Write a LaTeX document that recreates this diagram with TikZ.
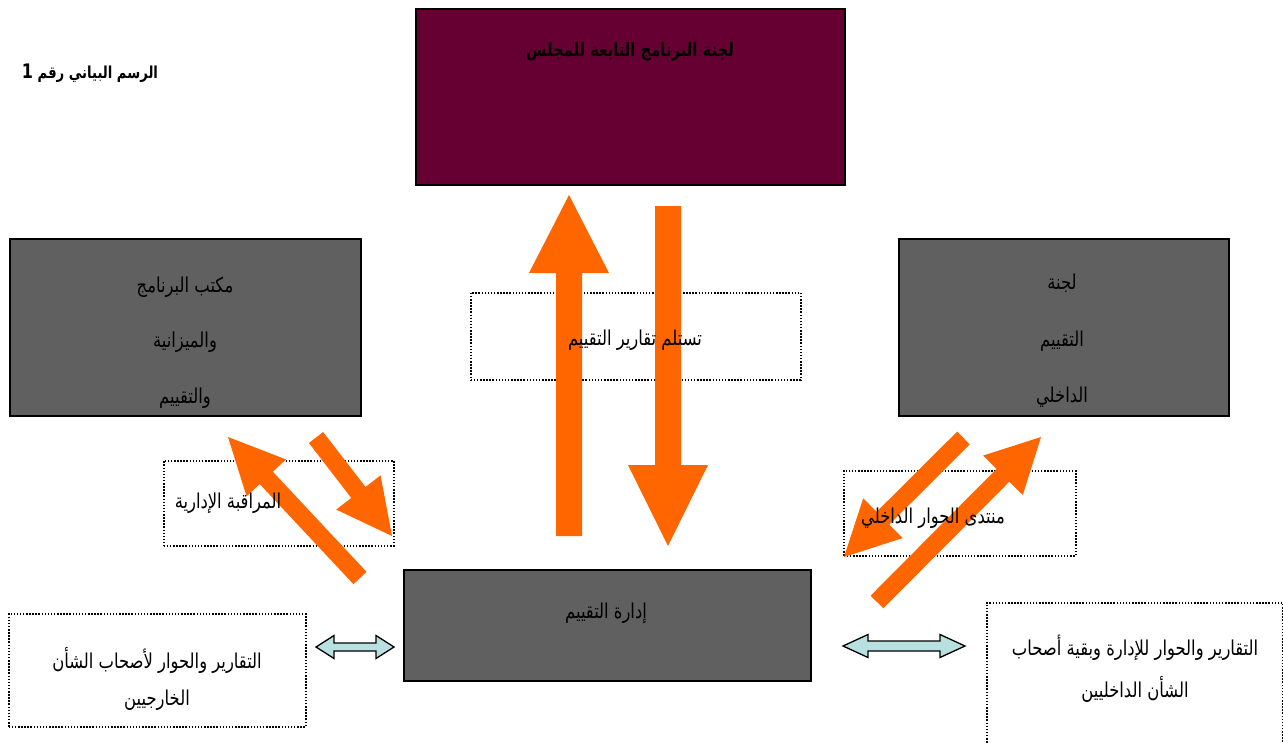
\documentclass[tikz,border=0pt]{standalone}
\usepackage{fontspec}
\TeXXeTstate=1
\newfontfamily\ar[Script=Arabic, FakeStretch=0.8]{DejaVu Sans}
\usetikzlibrary{calc}
\definecolor{maroon}{HTML}{660033}
\definecolor{boxgray}{HTML}{606060}
\definecolor{orng}{HTML}{FF6600}
\definecolor{lblue}{HTML}{B9E0E0}
% tail, tip, shaft half width, head half width, head length, style
\newcommand{\fatarrow}[6]{%
  \coordinate (fahead) at ($(#2)!#5!(#1)$);
  \fill[#6] ($(#1)!#3!90:(#2)$) -- ($(fahead)!#3!-90:(#1)$) -- ($(fahead)!#4!-90:(#1)$) -- (#2)
    -- ($(fahead)!#4!90:(#1)$) -- ($(fahead)!#3!90:(#1)$) -- ($(#1)!#3!-90:(#2)$) -- cycle;
}
% end A, end B, shaft half width, head half width, head length, style
\newcommand{\dblarrow}[6]{%
  \coordinate (dbha) at ($(#1)!#5!(#2)$);
  \coordinate (dbhb) at ($(#2)!#5!(#1)$);
  \filldraw[#6] (#1) -- ($(dbha)!#4!90:(#2)$) -- ($(dbha)!#3!90:(#2)$) -- ($(dbhb)!#3!-90:(#1)$)
    -- ($(dbhb)!#4!-90:(#1)$) -- (#2) -- ($(dbhb)!#4!90:(#1)$) -- ($(dbhb)!#3!90:(#1)$)
    -- ($(dbha)!#3!-90:(#2)$) -- ($(dbha)!#4!-90:(#2)$) -- cycle;
}
\begin{document}
\begin{tikzpicture}[x=1pt,y=-1pt,
  txt/.style={font=\ar\fontsize{20.5}{23}\selectfont, inner sep=0pt, text=black},
  btxt/.style={font=\ar\bfseries\fontsize{18.5}{21}\selectfont, inner sep=0pt, text=black},
  solidbox/.style={draw=black, line width=1.6pt, inner sep=0pt, anchor=north west},
  dotbox/.style={draw=black, line width=1.5pt, dash pattern=on 1.5pt off 1.6pt, inner sep=0pt, anchor=north west},
  orangearrow/.style={fill=orng},
  bluearrow/.style={fill=lblue, draw=black, line width=1.3pt, line join=miter},
]
\useasboundingbox (0,0) rectangle (1283,742);

% solid boxes
\node[solidbox, fill=maroon, minimum width=429pt, minimum height=176pt] (council) at (415,8) {};
\node[solidbox, fill=boxgray, minimum width=351pt, minimum height=177pt] (office) at (9,238) {};
\node[solidbox, fill=boxgray, minimum width=330pt, minimum height=177pt] (committee) at (898,238) {};
\node[solidbox, fill=boxgray, minimum width=407pt, minimum height=111pt] (mgmt) at (403,569) {};

% dotted boxes
\node[dotbox, minimum width=330pt, minimum height=87pt] (receive) at (470,292) {};
\node[dotbox, minimum width=230pt, minimum height=85pt] (oversight) at (163,460) {};
\node[dotbox, minimum width=232pt, minimum height=85pt] (forum) at (843,470) {};
\node[dotbox, minimum width=297pt, minimum height=113pt] (external) at (8,613) {};
\node[dotbox, minimum width=296pt, minimum height=150pt] (internal) at (986,602) {};

% arrow end points
\coordinate (upTail) at (569,536);   \coordinate (upTip) at (569,195);
\coordinate (dnTail) at (668,206);   \coordinate (dnTip) at (668,546);
\coordinate (luTail) at (360,578);   \coordinate (luTip) at (228,437);
\coordinate (ldTail) at (316,437.5); \coordinate (ldTip) at (392,536);
\coordinate (rdTail) at (963.5,438); \coordinate (rdTip) at (844,557);
\coordinate (ruTail) at (877,602);   \coordinate (ruTip) at (1041,437);
\coordinate (dlA) at (316,647);      \coordinate (dlB) at (394,647);
\coordinate (drA) at (843,646);      \coordinate (drB) at (965,646);

\fatarrow{upTail}{upTip}{13pt}{40pt}{78pt}{orangearrow}
\fatarrow{dnTail}{dnTip}{13pt}{40pt}{81pt}{orangearrow}
\fatarrow{luTail}{luTip}{9pt}{27pt}{56pt}{orangearrow}
\fatarrow{ldTail}{ldTip}{9pt}{28pt}{55pt}{orangearrow}
\fatarrow{rdTail}{rdTip}{9pt}{28pt}{55pt}{orangearrow}
\fatarrow{ruTail}{ruTip}{9pt}{28pt}{54pt}{orangearrow}
\dblarrow{dlA}{dlB}{4pt}{11.5pt}{18pt}{bluearrow}
\dblarrow{drA}{drB}{5pt}{11.5pt}{25pt}{bluearrow}

% texts
\node[btxt, font=\ar\bfseries\fontsize{16.5}{18}\selectfont] (title) at (90,73) {\beginR الرسم البياني رقم \fontsize{20}{22}\selectfont 1\endR};
\node[btxt] (councilT) at (630,52) {\beginR لجنة البرنامج التابعة للمجلس\endR};
\node[txt] (officeA) at (185,287) {\beginR مكتب البرنامج\endR};
\node[txt] (officeB) at (185,342) {\beginR والميزانية\endR};
\node[txt] (officeC) at (185,398) {\beginR والتقييم\endR};
\node[txt] (commA) at (1062,283) {\beginR لجنة\endR};
\node[txt] (commB) at (1062,341) {\beginR التقييم\endR};
\node[txt] (commC) at (1062,397) {\beginR الداخلي\endR};
\node[txt] (receiveT) at (635,340) {\beginR تستلم تقارير التقييم\endR};
\node[txt] (oversightT) at (228,503) {\beginR المراقبة الإدارية\endR};
\node[txt] (forumT) at (933,518) {\beginR منتدى الحوار الداخلي\endR};
\node[txt] (mgmtT) at (606,613) {\beginR إدارة التقييم\endR};
\node[txt] (extA) at (157,660) {\beginR التقارير والحوار لأصحاب الشأن\endR};
\node[txt] (extB) at (157,700) {\beginR الخارجيين\endR};
\node[txt] (intA) at (1135,648) {\beginR التقارير والحوار للإدارة وبقية أصحاب\endR};
\node[txt] (intB) at (1135,689) {\beginR الشأن الداخليين\endR};
\end{tikzpicture}
\end{document}
